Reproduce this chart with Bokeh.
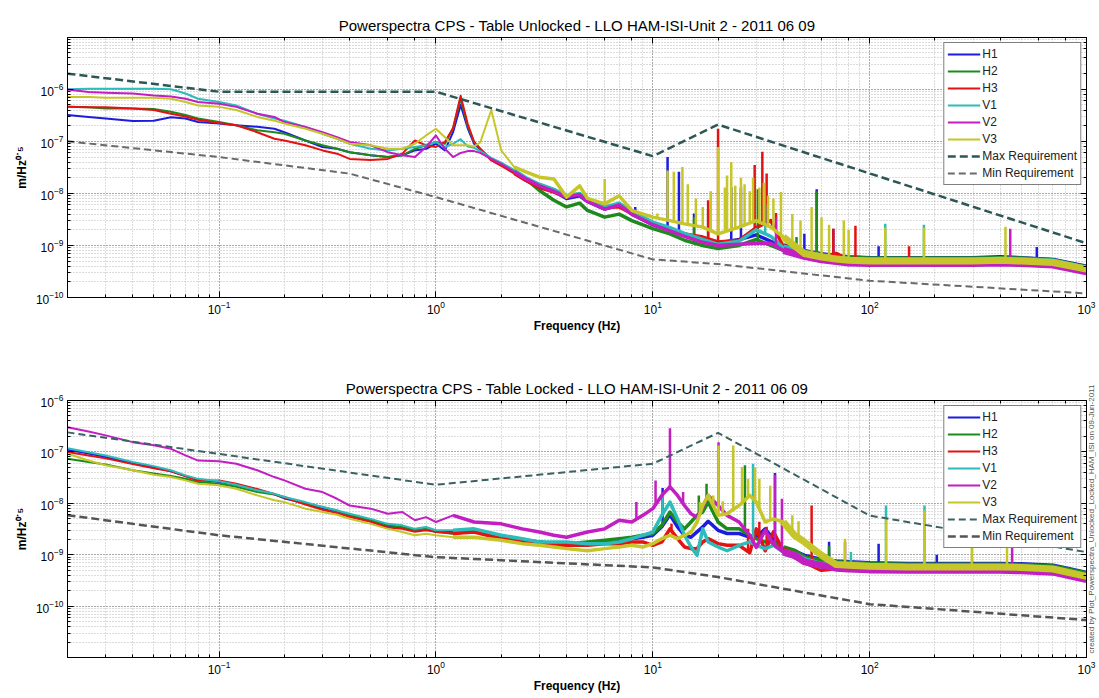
import numpy as np
from bokeh.plotting import figure
from bokeh.models import Range1d, Legend, LegendItem, Label, LogAxis, CustomJSTickFormatter
from bokeh.layouts import column
from bokeh.embed import file_html
from bokeh.resources import INLINE

FONT = "Liberation Sans"
NAMES = ["H1", "H2", "H3", "V1", "V2", "V3"]
COLORS = ["#1c1ce0", "#1e8a1e", "#e41212", "#2cbcbc", "#c21ec2", "#c6c62a"]

TITLE_TOP = "Powerspectra CPS - Table Unlocked - LLO HAM-ISI-Unit 2 - 2011 06 09"
TITLE_BOT = "Powerspectra CPS - Table Locked - LLO HAM-ISI-Unit 2 - 2011 06 09"
NOTE = "created by Plot_Powerspectra_Unlocked_Locked_HAM_ISI on 09-Jun-2011"

# ---------------- top panel (table unlocked) ----------------
F_TOP = [0.02, 0.025, 0.03, 0.04, 0.05, 0.06, 0.07, 0.08, 0.1, 0.12, 0.15, 0.18, 0.2, 0.25,
         0.3, 0.35, 0.4, 0.5, 0.6, 0.7, 0.8, 0.9, 1.0, 1.1, 1.2, 1.3, 1.4, 1.5, 1.6, 1.8, 2.0,
         2.3, 2.6, 3.0, 3.5, 4.0, 4.6, 5.0, 6.0, 7.0, 8.0, 10, 12, 14, 17, 20, 25, 30, 35, 40,
         50, 60, 70, 80, 100, 150, 200, 300, 400, 500, 700, 1000]

TOP_H1 = [3.2e-7, 2.95e-7, 2.75e-7, 2.45e-7, 2.5e-7, 2.9e-7, 2.75e-7, 2.35e-7, 2.2e-7, 2.04e-7,
          1.9e-7, 1.75e-7, 1.5e-7, 1.04e-7, 7.8e-8, 7.2e-8, 6.2e-8, 5.4e-8, 5e-8, 5.4e-8, 6.7e-8,
          7.2e-8, 9e-8, 6.7e-8, 1.5e-7,
          5e-7, 1.8e-7, 9e-8, 7e-8, 4.4e-8, 3.5e-8, 2.5e-8, 1.8e-8, 1.35e-8, 1.1e-8, 8e-9, 9e-9,
          7e-9, 5e-9, 6e-9, 4e-9, 2.5e-9, 2e-9, 1.6e-9, 1.4e-9, 1.1e-9, 1.3e-9, 1.6e-9, 1.2e-9,
          9.5e-10, 7.3e-10, 6.4e-10, 5.9e-10, 5.6e-10, 5.4e-10, 5.4e-10, 5.4e-10, 5.4e-10,
          5.6e-10, 5.4e-10, 5e-10, 3.7e-10]
TOP_H2 = [4.6e-7, 4.5e-7, 4.3e-7, 4.3e-7, 4.2e-7, 3.7e-7, 3.2e-7, 2.75e-7, 2.35e-7, 2.04e-7,
          1.63e-7, 1.5e-7, 1.4e-7, 1.04e-7, 8.4e-8, 7.2e-8, 6.2e-8, 5.4e-8, 5e-8, 5.4e-8, 7.2e-8,
          8.4e-8, 9.7e-8, 9e-8, 1.8e-7,
          6.5e-7, 2e-7, 9.7e-8, 7.2e-8, 4.6e-8, 3.7e-8, 2.6e-8, 1.9e-8, 1.14e-8, 7.4e-9, 5.5e-9,
          6.5e-9, 4.7e-9, 3.5e-9, 4e-9, 3e-9, 2.1e-9, 1.67e-9, 1.26e-9, 1e-9, 8.7e-10, 1e-9,
          1.3e-9, 1e-9, 8e-10, 7.2e-10, 6.2e-10, 5.7e-10, 5.5e-10, 5.3e-10, 5.3e-10, 5.3e-10,
          5.3e-10, 5.4e-10, 5.3e-10, 4.9e-10, 3.6e-10]
TOP_H3 = [4.6e-7, 4.5e-7, 4.5e-7, 4.3e-7, 4e-7, 3.4e-7, 3e-7, 2.6e-7, 2.25e-7, 2.04e-7, 1.5e-7,
          1.12e-7, 1.04e-7, 8.4e-8, 6.7e-8, 5.8e-8, 4.6e-8, 4.4e-8, 4.6e-8, 5.8e-8, 1.04e-7,
          8.4e-8, 7.8e-8, 9.7e-8, 1.8e-7,
          7.5e-7, 2.2e-7, 9.7e-8, 7.2e-8, 4.3e-8, 3.4e-8, 2.4e-8, 1.77e-8, 1.3e-8, 1.06e-8,
          8.5e-9, 9.8e-9, 7.4e-9, 5.5e-9, 5.5e-9, 4.1e-9, 2.6e-9, 2.1e-9, 1.67e-9, 1.45e-9,
          1.17e-9, 1.26e-9, 2.2e-9, 3e-9, 9.3e-10, 6.3e-10, 5.4e-10, 6.5e-10, 4.8e-10, 4.7e-10,
          4.7e-10, 4.7e-10, 4.7e-10, 4.8e-10, 4.7e-10, 4.4e-10, 3.3e-10]
TOP_V1 = [1e-6, 1.02e-6, 1.02e-6, 1.02e-6, 1.02e-6, 1e-6, 8.3e-7, 6.6e-7, 5.7e-7, 4.9e-7, 3.4e-7,
          2.75e-7, 2.5e-7, 1.9e-7, 1.4e-7, 1.12e-7, 9e-8, 7.2e-8, 6.7e-8, 7.2e-8, 7.8e-8, 8.4e-8,
          9.7e-8, 7.8e-8, 9e-8,
          1.1e-7, 8e-8, 7.5e-8, 6.5e-8, 4.8e-8, 3.9e-8, 2.8e-8, 2e-8, 1.5e-8, 1.2e-8, 9e-9, 1e-8,
          7.5e-9, 5.5e-9, 6.5e-9, 4.5e-9, 2.8e-9, 2.2e-9, 1.7e-9, 1.3e-9, 1.05e-9, 1.2e-9, 2e-9,
          1.5e-9, 9e-10, 7e-10, 6e-10, 5.5e-10, 5.2e-10, 5.1e-10, 5.1e-10, 5.1e-10, 5.1e-10,
          5.2e-10, 5.1e-10, 4.8e-10, 3.5e-10]
TOP_V2 = [9.9e-7, 8.9e-7, 8.6e-7, 8.3e-7, 7.6e-7, 7.3e-7, 6.6e-7, 5.7e-7, 5.3e-7, 4.6e-7, 3.4e-7,
          2.95e-7, 2.35e-7, 1.9e-7, 1.5e-7, 1.2e-7, 9.7e-8, 8.4e-8, 6.2e-8, 5.4e-8, 5e-8, 7.8e-8,
          1.3e-7, 7.2e-8, 5e-8,
          6e-8, 6.5e-8, 6.5e-8, 6e-8, 4.6e-8, 3.7e-8, 2.6e-8, 1.9e-8, 1.4e-8, 1.1e-8, 8.5e-9,
          9.5e-9, 7e-9, 5e-9, 6e-9, 4e-9, 2.5e-9, 1.9e-9, 1.5e-9, 1.15e-9, 1e-9, 1.05e-9, 1.1e-9,
          1.1e-9, 8e-10, 6.2e-10, 5.3e-10, 4.9e-10, 4.6e-10, 4.5e-10, 4.5e-10, 4.5e-10, 4.5e-10,
          4.6e-10, 4.5e-10, 4.2e-10, 3.1e-10]
TOP_V3 = [7.1e-7, 7.1e-7, 6.9e-7, 6.9e-7, 6.9e-7, 6.6e-7, 5.7e-7, 4.9e-7, 4.6e-7, 4e-7, 2.95e-7,
          2.5e-7, 2.2e-7, 1.75e-7, 1.4e-7, 1.12e-7, 9e-8, 8.4e-8, 7.2e-8, 7.2e-8, 9e-8, 1.3e-7,
          1.75e-7, 1.2e-7, 8.4e-8,
          8.4e-8, 8.4e-8, 8e-8, 9.5e-8, 4e-7, 6.7e-8, 3.2e-8, 2.6e-8, 2.05e-8, 1.9e-8, 8.5e-9,
          1.4e-8, 8e-9, 6.3e-9, 9e-9, 4.7e-9, 3.5e-9, 3e-9, 2.6e-9, 2.25e-9, 1.67e-9, 2.25e-9,
          3e-9, 2.25e-9, 1.45e-9, 7e-10, 6e-10, 5.5e-10, 5.2e-10, 5e-10, 5e-10, 5e-10, 5e-10,
          5.2e-10, 5e-10, 4.7e-10, 3.5e-10]

# narrow lines (frequency, peak height)
TOP_SPK = {
    "H1": ([8.3, 11.7, 13.2, 15.5, 23, 25.5, 50, 57, 68, 110, 590],
           [5.5e-9, 5e-8, 2.6e-8, 4.1e-9, 1.3e-8, 1.3e-8, 1.67e-9, 1.2e-8, 2.1e-9, 9.7e-10, 9.3e-10]),
    "H2": ([15.5, 18, 30.5, 46, 57],
           [3.5e-9, 5e-9, 1.2e-8, 1.45e-9, 1.1e-8]),
    "H3": ([18, 20, 29.5, 32, 33.5, 37, 68, 86, 152],
           [7.4e-9, 1.75e-7, 3.5e-8, 6.3e-8, 2.4e-8, 4.2e-9, 2.1e-9, 2.4e-9, 9.7e-10]),
    "V1": ([33, 118, 178], [6e-9, 2.6e-9, 2.5e-9]),
    "V2": ([37, 445], [3.5e-9, 2.1e-9]),
    "V3": ([6.0, 10.5, 11.7, 12.5, 13.7, 14.5, 15.8, 17, 18.5, 20, 21.5, 22, 23, 24, 25.5, 26.5,
            28, 29, 31, 32.5, 34, 36, 39, 44, 48, 54, 60, 65, 76, 80, 118, 178, 423],
           [1.9e-8, 4.1e-9, 2.75e-8, 2.6e-8, 3.2e-8, 1.5e-8, 8e-9, 5.5e-9, 1.1e-8, 7.8e-8, 1.3e-8,
            2.2e-8, 4e-8, 1.4e-8, 2e-8, 1.5e-8, 1.1e-8, 2e-8, 1.3e-8, 1.6e-8, 9e-9, 8e-9, 1.07e-8,
            4e-9, 3e-9, 5.5e-9, 3.5e-9, 2.5e-9, 3e-9, 2e-9, 2.2e-9, 2.2e-9, 2.3e-9]),
}

TOP_MAX_F = [0.02, 0.1, 1.0, 10.0, 20.0, 1000.0]
TOP_MAX_V = [2.0e-6, 9.0e-7, 9.0e-7, 5.2e-8, 2.1e-7, 1.1e-9]
TOP_MIN_F = [0.02, 0.1, 0.4, 1.0, 10.0, 20.0, 100.0, 1000.0]
TOP_MIN_V = [1.0e-7, 5.0e-8, 2.4e-8, 8.5e-9, 5.4e-10, 4.4e-10, 2.1e-10, 1.2e-10]

# ---------------- bottom panel (table locked) ----------------
F_BOT = [0.02, 0.025, 0.03, 0.04, 0.05, 0.06, 0.07, 0.08, 0.1, 0.12, 0.15, 0.18, 0.2, 0.25,
         0.3, 0.35, 0.4, 0.5, 0.6, 0.7, 0.8, 0.9, 1.0, 1.2, 1.5, 2.0, 2.5, 3.0, 3.5, 4.0, 5.0,
         6.0, 7.0, 8.0, 9.0, 10, 11, 12, 13, 14, 15, 16, 17, 18, 20, 22, 25, 28, 30, 33, 36,
         40, 45, 50, 60, 70, 80, 100, 150, 200, 300, 400, 500, 700, 1000]

BOT_H1 = [1.1e-7, 9.3e-8, 8e-8, 6e-8, 5e-8, 4.2e-8, 3.4e-8, 2.9e-8, 2.6e-8, 2.3e-8, 1.85e-8,
          1.5e-8, 1.25e-8, 1e-8, 8e-9, 7e-9, 6e-9, 4.7e-9, 3.6e-9, 3.4e-9, 3e-9, 3.1e-9, 2.8e-9,
          2.8e-9,
          3e-9, 2.2e-9, 1.92e-9, 1.78e-9, 1.65e-9, 1.65e-9, 1.65e-9, 1.78e-9, 1.92e-9, 2.06e-9,
          2.2e-9, 2.4e-9, 3.5e-9, 6e-9, 3.5e-9, 2.4e-9, 2.2e-9, 2.8e-9, 3.5e-9, 4.5e-9, 3e-9,
          2.6e-9, 2.6e-9, 2.2e-9, 2.2e-9, 3.2e-9, 2e-9, 1.3e-9, 1.1e-9, 9e-10, 7.5e-10,
          7e-10, 6.8e-10, 6.5e-10, 6.3e-10, 6.3e-10, 6.3e-10, 6.3e-10, 6.2e-10, 5.8e-10, 4.2e-10]
BOT_H2 = [7.4e-8, 6.35e-8, 5.7e-8, 4.4e-8, 3.8e-8, 3.4e-8, 3e-8, 2.6e-8, 2.4e-8, 2.1e-8, 1.66e-8,
          1.48e-8, 1.33e-8, 9.9e-9, 8.5e-9, 7.3e-9, 5.85e-9, 4.7e-9, 3.74e-9, 3.47e-9, 3e-9,
          3.2e-9, 2.77e-9, 2.58e-9,
          3e-9, 2.2e-9, 1.92e-9, 1.78e-9, 1.65e-9, 1.65e-9, 1.78e-9, 1.92e-9, 2.06e-9, 2.2e-9,
          2.4e-9, 2.58e-9, 3.74e-9, 6.8e-9, 4.35e-9, 3.2e-9, 4.35e-9, 5.85e-9, 6.8e-9, 1.06e-8,
          4.35e-9, 3.2e-9, 3.2e-9, 2.4e-9, 2.06e-9, 1.78e-9, 1.78e-9, 1.32e-9, 1.13e-9, 8.4e-10,
          7.3e-10,
          6.8e-10, 6.6e-10, 6.3e-10, 6.1e-10, 6.1e-10, 6.1e-10, 6.1e-10, 6e-10, 5.6e-10, 4.1e-10]
BOT_H3 = [1.0e-7, 8.5e-8, 7.5e-8, 5.8e-8, 4.8e-8, 4.2e-8, 3.4e-8, 2.75e-8, 2.8e-8, 2.4e-8, 1.9e-8,
          1.5e-8, 1.3e-8, 9.5e-9, 7.5e-9, 6.5e-9, 5.5e-9, 4.4e-9, 3.4e-9, 3.2e-9, 2.8e-9, 3e-9,
          2.8e-9, 2.6e-9,
          2.77e-9, 2.06e-9, 1.78e-9, 1.65e-9, 1.53e-9, 1.53e-9, 1.53e-9, 1.65e-9, 1.65e-9,
          1.78e-9, 1.78e-9, 1.53e-9, 1.78e-9, 3.2e-9, 2.06e-9, 1.42e-9, 1.32e-9, 1.32e-9,
          1.78e-9, 2.06e-9, 1.65e-9, 1.53e-9, 1.53e-9, 1.1e-9, 3.2e-9, 1.2e-9, 2.8e-9, 1.2e-9,
          9.8e-10, 7.8e-10, 5.4e-10,
          5.8e-10, 5.6e-10, 5.4e-10, 5.3e-10, 5.3e-10, 5.3e-10, 5.3e-10, 5.2e-10, 4.9e-10, 3.5e-10]
BOT_V1 = [1.18e-7, 9.9e-8, 8.55e-8, 6.35e-8, 5.3e-8, 4.4e-8, 3.5e-8, 3e-8, 2.7e-8, 2.3e-8, 1.8e-8,
          1.54e-8, 1.33e-8, 1.06e-8, 8.5e-9, 7.3e-9, 6.3e-9, 5e-9, 4e-9, 3.74e-9, 3.2e-9, 3.47e-9,
          3e-9, 3e-9,
          3.2e-9, 2.4e-9, 2.06e-9, 1.78e-9, 1.78e-9, 1.78e-9, 1.65e-9, 1.65e-9, 1.78e-9, 2.06e-9,
          2.4e-9, 2.77e-9, 5.85e-9, 1.06e-8, 5e-9, 2.4e-9, 1.42e-9, 9.8e-10, 3.2e-9, 1.78e-9,
          1.42e-9, 1.2e-9, 1.53e-9, 1.78e-9, 1.53e-9, 1.32e-9, 1.53e-9, 1.13e-9, 9.8e-10,
          7.8e-10, 6.25e-10,
          6.3e-10, 6.1e-10, 5.9e-10, 5.7e-10, 5.7e-10, 5.7e-10, 5.7e-10, 5.6e-10, 5.2e-10, 3.7e-10]
BOT_V2 = [3.03e-7, 2.5e-7, 2.1e-7, 1.55e-7, 1.35e-7, 1.15e-7, 8.55e-8, 6.8e-8, 6.6e-8, 5.9e-8,
          4.4e-8, 3.25e-8, 2.8e-8, 1.93e-8, 1.66e-8, 1.23e-8, 9.1e-9, 7.9e-9, 6.3e-9, 6.8e-9,
          4.7e-9, 5.4e-9, 4.35e-9, 5.85e-9,
          4.35e-9, 4e-9, 3.2e-9, 2.77e-9, 2.4e-9, 2.2e-9, 2.77e-9, 3.2e-9, 4.7e-9, 4.35e-9,
          5.85e-9, 7.9e-9, 1.43e-8, 2.1e-8, 1.43e-8, 9.1e-9, 6.3e-9, 5.4e-9, 8.5e-9, 1.43e-8,
          9.1e-9, 5.85e-9, 4.35e-9, 2.4e-9, 1.4e-9, 3e-9, 1.6e-9, 1.13e-9, 9.8e-10, 7.3e-10,
          6.25e-10,
          5.5e-10, 5.3e-10, 5.1e-10, 5e-10, 5e-10, 5e-10, 5e-10, 4.9e-10, 4.6e-10, 3.3e-10]
BOT_V3 = [9.2e-8, 6.8e-8, 5.5e-8, 4.4e-8, 3.6e-8, 3.25e-8, 2.8e-8, 2.4e-8, 2.24e-8, 1.93e-8,
          1.43e-8, 1.15e-8, 1.06e-8, 7.9e-9, 6.8e-9, 6e-9, 5e-9, 4e-9, 3.2e-9, 2.77e-9, 2.4e-9,
          2.58e-9, 2.4e-9, 2.2e-9,
          2.2e-9, 1.92e-9, 1.65e-9, 1.53e-9, 1.42e-9, 1.32e-9, 1.2e-9, 1.32e-9, 1.42e-9, 1.53e-9,
          1.42e-9, 1.65e-9, 2.06e-9, 2.4e-9, 2.06e-9, 2.4e-9, 2.77e-9, 4.35e-9, 9.1e-9, 1.43e-8,
          5.85e-9, 6.3e-9, 9.1e-9, 1.43e-8, 1.06e-8, 4.35e-9, 5e-9, 4.35e-9, 2.4e-9, 1.78e-9,
          9.8e-10,
          6.5e-10, 6.3e-10, 6e-10, 5.8e-10, 5.8e-10, 5.8e-10, 5.8e-10, 5.7e-10, 5.3e-10, 3.8e-10]

BOT_SPK = {
    "H1": ([11.1, 36.6, 65, 110, 204], [2e-8, 3.9e-8, 1.8e-9, 1.65e-9, 1e-9]),
    "H2": ([16.3, 17.7, 26.6, 65], [1.43e-8, 2.4e-8, 5.5e-8, 1.5e-9]),
    "H3": ([12.2, 27.5, 31, 33.5, 54], [4e-9, 3.2e-9, 4.4e-9, 3.5e-9, 9.1e-9]),
    "V1": ([11.1, 29, 82, 119, 179], [1.43e-8, 5.9e-8, 1.13e-9, 9.1e-9, 9.1e-9]),
    "V2": ([8.4, 10.3, 12.0, 13.8, 20.1, 36.6, 39.4, 77, 454],
           [1.06e-8, 2.8e-8, 2.9e-7, 1.66e-8, 1.55e-7, 3.6e-8, 1.23e-8, 1.78e-9, 2.4e-9]),
    "V3": ([16.5, 19, 20.1, 21, 23.5, 25.8, 27.5, 29.6, 31, 34.8, 44, 47, 77, 119, 179, 296, 430],
           [1.06e-8, 1.43e-8, 1.34e-7, 1.1e-8, 1.34e-7, 5.1e-8, 3e-8, 5e-8, 3e-8, 2.2e-8, 5.85e-9,
            4.5e-9, 2.06e-9, 5e-9, 7.3e-9, 1.65e-9, 2.06e-9]),
}

BOT_MAX_F = [0.02, 1.0, 10.0, 20.0, 100.0, 1000.0]
BOT_MAX_V = [2.4e-7, 2.3e-8, 5.9e-8, 2.35e-7, 5.8e-9, 1.13e-9]
BOT_MIN_F = [0.02, 0.1, 1.0, 10.0, 20.0, 100.0, 1000.0]
BOT_MIN_V = [5.9e-9, 2.4e-9, 9.0e-10, 5.7e-10, 3.7e-10, 1.1e-10, 5.4e-11]


def style_ticks(ax):
    ax.major_tick_in = 6
    ax.major_tick_out = 0
    ax.minor_tick_in = 3
    ax.minor_tick_out = 0
    ax.axis_line_color = "black"
    ax.major_tick_line_color = "black"
    ax.minor_tick_line_color = "black"


def make_fig(title, height, top, bottom, yr):
    p = figure(width=1099, height=height, x_axis_type="log", y_axis_type="log",
               x_range=Range1d(0.02, 1000), y_range=Range1d(*yr),
               output_backend="svg", toolbar_location=None,
               min_border_left=67, min_border_right=13,
               min_border_top=top, min_border_bottom=bottom)
    p.title.text = title
    p.title.align = "center"
    p.title.text_font = FONT
    p.title.text_font_size = "15px"
    p.title.text_font_style = "normal"
    p.title.text_color = "black"
    p.title.standoff = 8
    p.outline_line_color = "black"
    p.outline_line_width = 1
    for ax in (p.xaxis[0], p.yaxis[0]):
        ax.major_label_text_font = FONT
        ax.major_label_text_font_size = "12px"
        ax.major_label_text_color = "black"
        ax.axis_label_text_font = FONT
        ax.axis_label_text_font_size = "12px"
        ax.axis_label_text_font_style = "bold"
        ax.axis_label_text_color = "black"
        style_ticks(ax)
    p.xaxis.axis_label = "Frequency (Hz)"
    p.yaxis.axis_label = "m/Hz\u2070\u02d9\u2075"
    p.xaxis.major_label_standoff = 3
    p.xaxis.axis_label_standoff = 2
    p.yaxis.major_label_standoff = 4
    p.yaxis.axis_label_standoff = 4
    # tick marks along the top and right edges of the box (no labels there)
    for side in ("above", "right"):
        ax = LogAxis(formatter=CustomJSTickFormatter(code="return ''"),
                     major_label_text_font_size="1px", major_label_standoff=0)
        style_ticks(ax)
        p.add_layout(ax, side)
    p.grid.grid_line_color = "#8a8a8a"
    p.grid.grid_line_dash = "1 2"
    p.grid.minor_grid_line_color = "#b8b8b8"
    p.grid.minor_grid_line_dash = "1 2"
    return p


def draw(p, freqs, series, spikes, maxf, maxv, minf, minv, tiers, max_style, min_style):
    f = np.array(freqs, dtype=float)
    lf = np.log10(f)
    items = []
    for name, color in zip(NAMES, COLORS):
        v = np.array(series[name], dtype=float)
        r = p.line(f, v, line_color=color, line_width=2, line_join="round")
        for thr, w in tiers:
            m = f >= thr
            p.line(f[m], v[m], line_color=color, line_width=w, line_join="round")
        sf = np.array(spikes[name][0], dtype=float)
        sv = np.array(spikes[name][1], dtype=float)
        foot = 10 ** np.interp(np.log10(sf), lf, np.log10(v))
        p.segment(x0=sf, y0=foot, x1=sf, y1=sv, line_color=color, line_width=2.5)
        items.append(LegendItem(label=name, renderers=[r]))
    rmax = p.line(maxf, maxv, **max_style)
    rmin = p.line(minf, minv, **min_style)
    items.append(LegendItem(label="Max Requirement", renderers=[rmax]))
    items.append(LegendItem(label="Min Requirement", renderers=[rmin]))
    leg = Legend(items=items, location="top_right", margin=5, padding=3, spacing=1,
                 label_height=16, glyph_height=16, glyph_width=33, label_standoff=2,
                 label_text_font=FONT, label_text_font_size="12px", label_text_color="#222222",
                 border_line_color="black", border_line_width=1,
                 background_fill_color="white", background_fill_alpha=1.0)
    p.add_layout(leg)


p1 = make_fig(TITLE_TOP, 340, 37, 43, (1e-10, 9.9e-6))
draw(p1, F_TOP,
     {"H1": TOP_H1, "H2": TOP_H2, "H3": TOP_H3, "V1": TOP_V1, "V2": TOP_V2, "V3": TOP_V3},
     TOP_SPK, TOP_MAX_F, TOP_MAX_V, TOP_MIN_F, TOP_MIN_V,
     [(2.3, 3.5), (40, 7)],
     dict(line_color="#2d5757", line_width=2.5, line_dash="8 4"),
     dict(line_color="#6a6a6a", line_width=2, line_dash="7 4"))

p2 = make_fig(TITLE_BOT, 358, 60, 41, (1.01e-11, 1e-6))
draw(p2, F_BOT,
     {"H1": BOT_H1, "H2": BOT_H2, "H3": BOT_H3, "V1": BOT_V1, "V2": BOT_V2, "V3": BOT_V3},
     BOT_SPK, BOT_MAX_F, BOT_MAX_V, BOT_MIN_F, BOT_MIN_V,
     [(1.2, 3.5), (40, 7)],
     dict(line_color="#3a6262", line_width=2, line_dash="7 4"),
     dict(line_color="#555555", line_width=2.5, line_dash="8 4"))

# small vertical note in the right margin, reading bottom to top
note = Label(x=5, y=4, x_units="screen", y_units="screen", text=NOTE, angle=np.pi / 2,
             text_font=FONT, text_font_size="8px", text_color="#555555",
             text_align="left", text_baseline="middle")
p2.add_layout(note, "right")

layout = column(p1, p2, spacing=0)
open("out.html", "w").write(file_html(layout, INLINE, "Powerspectra CPS"))
